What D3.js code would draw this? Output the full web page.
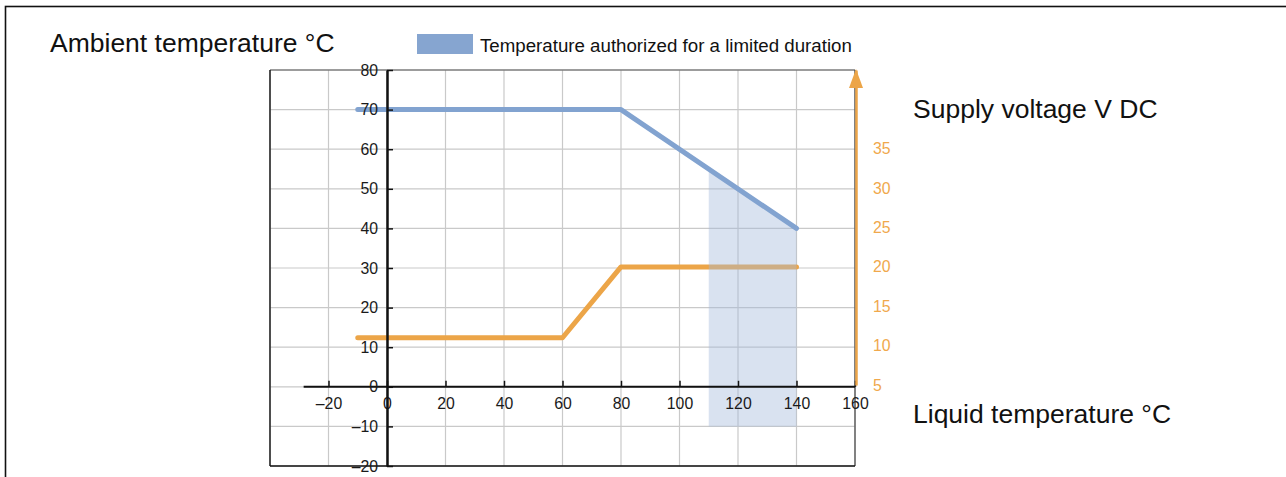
<!DOCTYPE html>
<html>
<head>
<meta charset="utf-8">
<script src="https://cdn.jsdelivr.net/npm/d3@7"></script>
<style>
  html, body { margin: 0; padding: 0; background: #fff; }
  svg { display: block; }
  text { font-family: "Liberation Sans", Arial, Helvetica, sans-serif; }
</style>
</head>
<body>
<svg id="chart" width="1286" height="477"></svg>
<script>
// ---- data ----
const xTicks = [-20, 0, 20, 40, 60, 80, 100, 120, 140, 160];
const yTicks = [-20, -10, 0, 10, 20, 30, 40, 50, 60, 70, 80];
const vTicks = [5, 10, 15, 20, 25, 30, 35];
const xGrid = [-40, -20, 0, 20, 40, 60, 80, 100, 120, 140, 160];
const yGrid = [-20, -10, 0, 10, 20, 30, 40, 50, 60, 70, 80];

// Ambient temperature limit (°C) vs liquid temperature (°C)
const ambientX = [-10, 80, 140];
const ambientY = [70, 70, 40];
// Supply voltage (V DC) vs liquid temperature (°C)
const voltX = [-10, 60, 80, 140];
const voltY = [11, 11, 20, 20];
// Limited-duration zone
const zoneX = [110, 140];
const zoneBottom = -10;

const legendLabel = "Temperature authorized for a limited duration";
const titleLeft = "Ambient temperature °C";
const titleRight = "Supply voltage V DC";
const titleX = "Liquid temperature °C";

// ---- drawing ----
const svg = d3.select("#chart");
const blue = "#82a3d0";
const orange = "#eca548";
const orangeText = "#f0a84c";
const tickFont = 15.8;

const x = d3.scaleLinear().domain([-40, 160]).range([270, 855]);
const y = d3.scaleLinear().domain([-20, 80]).range([466, 70]);
const v = d3.scaleLinear().domain([5, 45]).range([385, 70]);

// outer frame
svg.append("rect").attr("x", 5.5).attr("y", 6.5).attr("width", 1400).attr("height", 600)
  .attr("fill", "none").attr("stroke", "#111").attr("stroke-width", 1.6);

// grid
const g = svg.append("g");
g.selectAll("line.vg").data(xGrid).join("line")
  .attr("x1", d => x(d)).attr("x2", d => x(d))
  .attr("y1", y(80)).attr("y2", y(-20))
  .attr("stroke", "#c9c9c9").attr("stroke-width", 1.2);
g.selectAll("line.hg").data(yGrid).join("line")
  .attr("x1", x(-40)).attr("x2", x(160))
  .attr("y1", d => y(d)).attr("y2", d => y(d))
  .attr("stroke", "#c9c9c9").attr("stroke-width", 1.2);

// box borders
svg.append("line").attr("x1", x(-40)).attr("x2", x(160)).attr("y1", y(80)).attr("y2", y(80))
  .attr("stroke", "#555").attr("stroke-width", 1.2);
svg.append("line").attr("x1", x(160)).attr("x2", x(160)).attr("y1", y(80)).attr("y2", y(-20))
  .attr("stroke", "#444").attr("stroke-width", 1.2);
svg.append("line").attr("x1", x(-40)).attr("x2", x(-40)).attr("y1", y(80)).attr("y2", y(-20))
  .attr("stroke", "#111").attr("stroke-width", 1.4);
svg.append("line").attr("x1", x(-40)).attr("x2", x(160)).attr("y1", y(-20)).attr("y2", y(-20))
  .attr("stroke", "#111").attr("stroke-width", 1.4);

// orange voltage line
const vLine = d3.line().x(d => x(d[0])).y(d => v(d[1]));
svg.append("path").datum(voltX.map((d, i) => [d, voltY[i]]))
  .attr("d", vLine).attr("fill", "none").attr("stroke", orange)
  .attr("stroke-width", 5).attr("stroke-linecap", "round").attr("stroke-linejoin", "round");

// limited-duration zone (ambient limit down to zoneBottom)
const ambAt = t => {
  for (let i = 0; i < ambientX.length - 1; i++) {
    if (t >= ambientX[i] && t <= ambientX[i + 1]) {
      const f = (t - ambientX[i]) / (ambientX[i + 1] - ambientX[i]);
      return ambientY[i] + f * (ambientY[i + 1] - ambientY[i]);
    }
  }
  return ambientY[ambientY.length - 1];
};
const zonePts = [[zoneX[0], zoneBottom], [zoneX[0], ambAt(zoneX[0])], [zoneX[1], ambAt(zoneX[1])], [zoneX[1], zoneBottom]];
svg.append("path").datum(zonePts)
  .attr("d", d3.line().x(d => x(d[0])).y(d => y(d[1])))
  .attr("fill", "rgb(165,186,220)").attr("fill-opacity", 0.42);

// blue ambient line
svg.append("path").datum(ambientX.map((d, i) => [d, ambientY[i]]))
  .attr("d", d3.line().x(d => x(d[0])).y(d => y(d[1])))
  .attr("fill", "none").attr("stroke", blue)
  .attr("stroke-width", 5).attr("stroke-linecap", "round").attr("stroke-linejoin", "round");

const fmt = d => d < 0 ? "\u2013" + (-d) : String(d);

// x axis
const xAxisG = svg.append("g").attr("transform", `translate(0,${y(0)})`)
  .call(d3.axisBottom(x).tickValues(xTicks).tickFormat(fmt).tickSize(-6).tickSizeOuter(0).tickPadding(11));
xAxisG.attr("font-size", null).attr("font-family", null);
xAxisG.select(".domain").remove();
xAxisG.selectAll(".tick line").attr("stroke", "#111").attr("stroke-width", 1.5);
xAxisG.selectAll(".tick text").style("font-size", tickFont + "px").attr("fill", "#1a1a1a");
xAxisG.append("line").attr("x1", x(-28.5)).attr("x2", x(160)).attr("y1", 0).attr("y2", 0)
  .attr("stroke", "#111").attr("stroke-width", 2);

// y axis
const yAxisG = svg.append("g").attr("transform", `translate(${x(0)},0)`)
  .call(d3.axisLeft(y).tickValues(yTicks).tickFormat(fmt).tickSize(-6).tickSizeOuter(0).tickPadding(9));
yAxisG.attr("font-size", null).attr("font-family", null);
yAxisG.select(".domain").attr("stroke", "#111").attr("stroke-width", 2.5);
yAxisG.selectAll(".tick line").attr("stroke", "#111").attr("stroke-width", 1.5);
yAxisG.selectAll(".tick text").style("font-size", tickFont + "px").attr("fill", "#1a1a1a");

// right voltage axis
const vAxisG = svg.append("g").attr("transform", `translate(${x(160) + 1},0)`)
  .call(d3.axisRight(v).tickValues(vTicks).tickSize(0).tickSizeOuter(0).tickPadding(17));
vAxisG.attr("font-size", null).attr("font-family", null);
vAxisG.select(".domain").attr("stroke", orange).attr("stroke-width", 2.5);
vAxisG.selectAll(".tick text").style("font-size", tickFont + "px").attr("fill", orangeText);
// arrow head
const ax = x(160) + 1, ay = v(45) - 1;
svg.append("path")
  .attr("d", `M${ax},${ay} L${ax - 7},${ay + 19} L${ax + 7},${ay + 19} Z`)
  .attr("fill", orange);

// legend
svg.append("rect").attr("x", 417).attr("y", 34).attr("width", 56).attr("height", 20).attr("fill", "#86a5d0");
svg.append("text").attr("x", 480).attr("y", 51.5).attr("font-size", 18.7).attr("fill", "#111").text(legendLabel);

// titles
svg.append("text").attr("x", 50).attr("y", 52).attr("font-size", 26.5).attr("fill", "#111").text(titleLeft);
svg.append("text").attr("x", 913).attr("y", 118).attr("font-size", 26.5).attr("fill", "#111").text(titleRight);
svg.append("text").attr("x", 913).attr("y", 423).attr("font-size", 26.5).attr("fill", "#111").text(titleX);
</script>
</body>
</html>
